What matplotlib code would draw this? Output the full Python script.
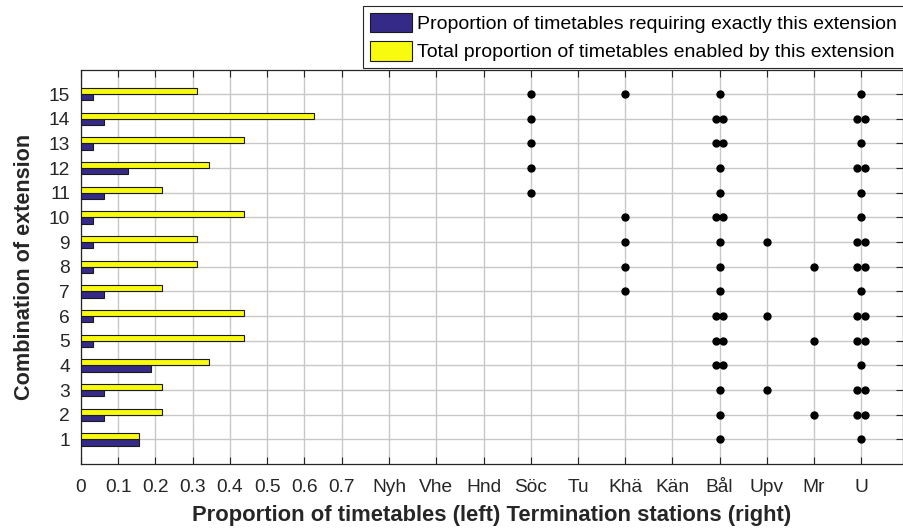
import numpy as np
import matplotlib
matplotlib.use("Agg")
import matplotlib.pyplot as plt

plt.rcParams['font.family'] = ['Liberation Sans', 'DejaVu Sans']

# ---- data ----
rows = list(range(1, 16))
exact_prop = [0.15625, 0.0625, 0.0625, 0.1875, 0.03125, 0.03125, 0.0625, 0.03125,
              0.03125, 0.03125, 0.0625, 0.125, 0.03125, 0.0625, 0.03125]
total_prop = [0.15625, 0.21875, 0.21875, 0.34375, 0.4375, 0.4375, 0.21875, 0.3125,
              0.3125, 0.4375, 0.21875, 0.34375, 0.4375, 0.625, 0.3125]
num_ticks = [0, 0.1, 0.2, 0.3, 0.4, 0.5, 0.6, 0.7]
num_labels = ['0', '0.1', '0.2', '0.3', '0.4', '0.5', '0.6', '0.7']
stations = ['Nyh', 'Vhe', 'Hnd', 'Söc', 'Tu', 'Khä', 'Kän', 'Bål', 'Upv', 'Mr', 'U']
# number of termination dots per station for rows 1..15
dots_Soc = [0, 0, 0, 0, 0, 0, 0, 0, 0, 0, 1, 1, 1, 1, 1]
dots_Kha = [0, 0, 0, 0, 0, 0, 1, 1, 1, 1, 0, 0, 0, 0, 1]
dots_Bal = [1, 1, 1, 2, 2, 2, 1, 1, 1, 2, 1, 1, 2, 2, 1]
dots_Upv = [0, 0, 1, 0, 0, 1, 0, 0, 1, 0, 0, 0, 0, 0, 0]
dots_Mr  = [0, 1, 0, 0, 1, 0, 0, 1, 0, 0, 0, 0, 0, 0, 0]
dots_U   = [1, 2, 2, 1, 2, 2, 1, 2, 2, 1, 1, 2, 1, 2, 1]
station_dots = {'Söc': dots_Soc, 'Khä': dots_Kha, 'Bål': dots_Bal,
                'Upv': dots_Upv, 'Mr': dots_Mr, 'U': dots_U}

leg_exact = 'Proportion of timetables requiring exactly this extension'
leg_total = 'Total proportion of timetables enabled by this extension'
xlabel = 'Proportion of timetables (left) Termination stations (right)'
ylabel = 'Combination of extension'

# ---- layout ----
station_pos = np.linspace(0.828, 2.096, len(stations))
pos_of = dict(zip(stations, station_pos))
blue = '#352a87'
yellow = '#f9fb0e'
txt = '#262626'

fig = plt.figure(figsize=(9.04, 5.29), dpi=100)
ax = fig.add_axes([81 / 904, 65 / 529, 822 / 904, 394.5 / 529])

y = np.array(rows, dtype=float)
h = 0.25
b1 = ax.barh(y - h / 2, exact_prop, height=h, color=blue, edgecolor='#1a1a1a',
             linewidth=0.8, label=leg_exact, zorder=3)
b2 = ax.barh(y + h / 2, total_prop, height=h, color=yellow, edgecolor='#1a1a1a',
             linewidth=0.8, label=leg_total, zorder=3)

off = 0.0105
for name, counts in station_dots.items():
    xs, ys = [], []
    for r, c in zip(rows, counts):
        if c == 1:
            xs.append(pos_of[name]); ys.append(r)
        elif c == 2:
            xs += [pos_of[name] - off, pos_of[name] + off]; ys += [r, r]
    ax.plot(xs, ys, 'o', color='black', ms=5, zorder=4)

ax.set_xlim(0, 2.2085)
ax.set_ylim(0, 16)
ax.set_xticks(list(num_ticks) + list(station_pos))
ax.set_xticklabels(num_labels + stations)
ax.set_yticks(rows)
ax.tick_params(axis='both', direction='in', length=5, width=0.8, colors=txt,
               labelsize=13.8, top=True, right=True, pad=8)
ax.tick_params(axis='x', pad=11)
for lab in ax.get_xticklabels() + ax.get_yticklabels():
    lab.set_color(txt)
ax.grid(True, color='#c8c8c8', linewidth=1.0, zorder=0)
ax.set_axisbelow(True)
for s in ax.spines.values():
    s.set_color(txt)
    s.set_linewidth(0.9)

ax.set_xlabel(xlabel, fontsize=15.8, fontweight='bold', color=txt, labelpad=6)
ax.set_ylabel(ylabel, fontsize=15.6, fontweight='bold', color=txt, labelpad=10)

leg = fig.legend(handles=[b1, b2], loc='upper left',
                 bbox_to_anchor=(363 / 904, 1 - 6 / 529),
                 fontsize=14, frameon=True, fancybox=False, edgecolor='#262626',
                 framealpha=1, borderpad=0.35, labelspacing=0.42, handlelength=2.15,
                 handleheight=1.15, handletextpad=0.28, borderaxespad=0)
leg.get_frame().set_linewidth(0.8)

fig.savefig('out.png', dpi=100)
